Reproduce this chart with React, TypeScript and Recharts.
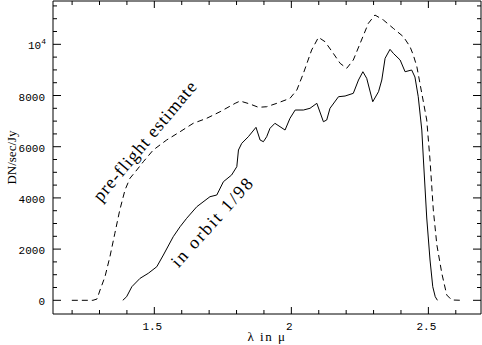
import React from "react";
import { LineChart, Line, XAxis, YAxis, ReferenceDot } from "recharts";

const preflightX = [1.199, 1.276, 1.291, 1.302, 1.320, 1.338, 1.356, 1.374, 1.393, 1.411, 1.436, 1.460, 1.496, 1.545, 1.594, 1.642, 1.691, 1.740, 1.795, 1.813, 1.849, 1.880, 1.910, 1.947, 1.995, 2.020, 2.044, 2.074, 2.099, 2.123, 2.153, 2.178, 2.202, 2.226, 2.251, 2.281, 2.305, 2.336, 2.372, 2.409, 2.433, 2.445, 2.458, 2.476, 2.494, 2.506, 2.518, 2.531, 2.549, 2.567, 2.585, 2.622];
const preflightY = [0, 0, 51, 402, 922, 1703, 2617, 3527, 4308, 4765, 5090, 5414, 5871, 6262, 6586, 6914, 7109, 7367, 7695, 7785, 7668, 7539, 7562, 7695, 7890, 8214, 8867, 9777, 10273, 10101, 9648, 9257, 9062, 9386, 10038, 10820, 11144, 10949, 10624, 10296, 9906, 9582, 9124, 8085, 7043, 5480, 3527, 2160, 1055, 207, 12, 0];

const orbitX = [1.385, 1.399, 1.418, 1.448, 1.478, 1.509, 1.533, 1.569, 1.594, 1.618, 1.655, 1.703, 1.728, 1.752, 1.782, 1.801, 1.807, 1.819, 1.843, 1.871, 1.886, 1.898, 1.910, 1.922, 1.940, 1.977, 1.995, 2.014, 2.044, 2.068, 2.093, 2.117, 2.129, 2.141, 2.172, 2.196, 2.226, 2.245, 2.261, 2.275, 2.297, 2.318, 2.330, 2.342, 2.360, 2.372, 2.397, 2.415, 2.439, 2.451, 2.463, 2.476, 2.482, 2.494, 2.506, 2.516, 2.525, 2.533];
const orbitY = [0, 141, 531, 859, 1055, 1312, 1769, 2484, 2875, 3203, 3656, 4047, 4113, 4632, 4894, 5219, 5871, 6132, 6390, 6757, 6261, 6195, 6390, 6718, 6914, 6652, 7109, 7433, 7433, 7500, 7695, 6976, 7043, 7500, 7953, 7980, 8085, 8605, 8929, 8671, 7757, 8148, 8605, 9452, 9804, 9648, 9386, 8929, 8996, 8722, 7953, 6652, 5480, 3215, 1574, 531, 141, 0];

const xMajorTicks = [1.5, 2, 2.5];
const xMajorLabels = ["1.5", "2", "2.5"];
const xAllTicks = [1.2, 1.3, 1.4, 1.5, 1.6, 1.7, 1.8, 1.9, 2.0, 2.1, 2.2, 2.3, 2.4, 2.5, 2.6];
const yMajorTicks = [0, 2000, 4000, 6000, 8000, 10000];
const yMajorLabels = ["0", "2000", "4000", "6000", "8000", "10^4"];
const yAllTicks = [0, 500, 1000, 1500, 2000, 2500, 3000, 3500, 4000, 4500, 5000, 5500, 6000, 6500, 7000, 7500, 8000, 8500, 9000, 9500, 10000, 10500, 11000, 11500];

const xDomain = [1.1303, 2.692];
const yDomain = [-535, 11692];

const preflight = preflightX.map((x, i) => ({ x, y: preflightY[i] }));
const orbit = orbitX.map((x, i) => ({ x, y: orbitY[i] }));

const TICK_FONT = "'Liberation Mono', 'DejaVu Sans Mono', monospace";
const SERIF = "'Liberation Serif', 'DejaVu Serif', serif";

const majorIndex = (arr: number[], v: number) => arr.findIndex((m) => Math.abs(m - v) < 1e-6);

const XTickBottom = (props: any) => {
  const { x, y, payload } = props;
  const idx = majorIndex(xMajorTicks, payload.value);
  const len = idx >= 0 ? 7 : 4;
  return (
    <g>
      <line x1={x} x2={x} y1={y} y2={y - len} stroke="#000" strokeWidth={1} />
      {idx >= 0 && (
        <text x={x - 2} y={y + 16} textAnchor="middle" fontFamily={TICK_FONT} fontSize={11} fill="#000">
          {xMajorLabels[idx]}
        </text>
      )}
    </g>
  );
};

const XTickTop = (props: any) => {
  const { x, y, payload } = props;
  const idx = majorIndex(xMajorTicks, payload.value);
  const len = idx >= 0 ? 7 : 4;
  return <line x1={x} x2={x} y1={y} y2={y + len} stroke="#000" strokeWidth={1} />;
};

const YTickLeft = (props: any) => {
  const { x, y, payload } = props;
  const idx = majorIndex(yMajorTicks, payload.value);
  const len = idx >= 0 ? 8 : 4;
  const label = idx >= 0 ? yMajorLabels[idx] : null;
  return (
    <g>
      <line x1={x} x2={x + len} y1={y} y2={y} stroke="#000" strokeWidth={1} />
      {label && label !== "10^4" && (
        <text x={x - 8} y={y + 5} textAnchor="end" fontFamily={TICK_FONT} fontSize={11} fill="#000">
          {label}
        </text>
      )}
      {label === "10^4" && (
        <text x={x - 7} y={y + 5} textAnchor="end" fontFamily={TICK_FONT} fontSize={11} fill="#000">
          <tspan>10</tspan>
          <tspan dy={-5} fontSize={8}>4</tspan>
        </text>
      )}
    </g>
  );
};

const YTickRight = (props: any) => {
  const { x, y, payload } = props;
  const idx = majorIndex(yMajorTicks, payload.value);
  const len = idx >= 0 ? 8 : 4;
  return <line x1={x} x2={x - len} y1={y} y2={y} stroke="#000" strokeWidth={1} />;
};

const rotatedText = (text: string, angle: number, fontSize: number, spacing: number) => (p: any) => (
  <text
    x={p.cx}
    y={p.cy}
    transform={`rotate(${angle} ${p.cx} ${p.cy})`}
    textAnchor="middle"
    dominantBaseline="central"
    fontFamily={SERIF}
    fontSize={fontSize}
    letterSpacing={spacing}
    fill="#000"
  >
    {text}
  </text>
);

export default function App() {
  return (
    <div style={{ position: "absolute", left: 0, top: 0, background: "#fff" }}>
      <LineChart width={482} height={345} margin={{ top: 0, right: 0, bottom: 0, left: 0 }}>
        <XAxis
          xAxisId="b"
          type="number"
          dataKey="x"
          domain={xDomain}
          allowDataOverflow
          ticks={xAllTicks}
          interval={0}
          height={31}
          tickSize={0}
          tickMargin={0}
          tickLine={false}
          axisLine={{ stroke: "#000" }}
          tick={<XTickBottom />}
          label={(p: any) => {
            const vb = p.viewBox;
            return (
              <text x={vb.x + vb.width / 2} y={vb.y + vb.height - 4} textAnchor="middle" fontFamily={SERIF} fontSize={13} letterSpacing={1.5} fill="#000">
                λ in μ
              </text>
            );
          }}
        />
        <XAxis
          xAxisId="t"
          orientation="top"
          type="number"
          dataKey="x"
          domain={xDomain}
          allowDataOverflow
          ticks={xAllTicks}
          interval={0}
          height={1}
          tickSize={0}
          tickMargin={0}
          tickLine={false}
          axisLine={{ stroke: "#000" }}
          tick={<XTickTop />}
        />
        <YAxis
          yAxisId="l"
          type="number"
          domain={yDomain}
          allowDataOverflow
          ticks={yAllTicks}
          interval={0}
          width={53}
          tickSize={0}
          tickMargin={0}
          tickLine={false}
          axisLine={{ stroke: "#000" }}
          tick={<YTickLeft />}
          label={(p: any) => {
            const vb = p.viewBox;
            const cx = vb.x + 11;
            const cy = vb.y + vb.height / 2;
            return (
              <text x={cx} y={cy} transform={`rotate(-90 ${cx} ${cy})`} textAnchor="middle" dominantBaseline="central" fontFamily={SERIF} fontSize={13} fill="#000">
                DN/sec/Jy
              </text>
            );
          }}
        />
        <YAxis
          yAxisId="r"
          orientation="right"
          type="number"
          domain={yDomain}
          allowDataOverflow
          ticks={yAllTicks}
          interval={0}
          width={1}
          tickSize={0}
          tickMargin={0}
          tickLine={false}
          axisLine={{ stroke: "#000" }}
          tick={<YTickRight />}
        />
        <Line
          xAxisId="b"
          yAxisId="l"
          data={preflight}
          dataKey="y"
          type="linear"
          stroke="#000"
          strokeWidth={1}
          strokeDasharray="6 4"
          dot={false}
          isAnimationActive={false}
        />
        <Line
          xAxisId="b"
          yAxisId="l"
          data={orbit}
          dataKey="y"
          type="linear"
          stroke="#000"
          strokeWidth={1}
          dot={false}
          isAnimationActive={false}
        />
        <ReferenceDot xAxisId="b" yAxisId="l" x={1.466} y={6230} r={1} shape={rotatedText("pre-flight estimate", -50, 18, 1)} />
        <ReferenceDot xAxisId="b" yAxisId="l" x={1.712} y={3070} r={1} shape={rotatedText("in orbit 1/98", -48, 18, 2)} />
      </LineChart>
    </div>
  );
}
